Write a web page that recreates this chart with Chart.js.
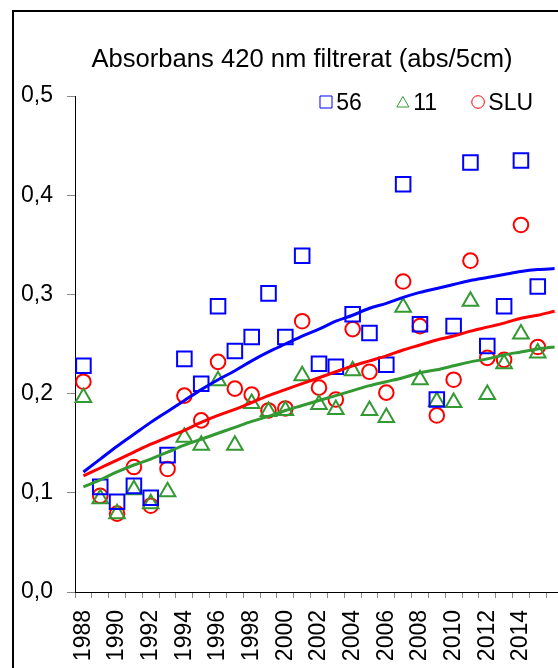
<!DOCTYPE html>
<html lang="sv">
<head>
    <meta charset="UTF-8">
    <title>Absorbans 420 nm filtrerat</title>
    <script src="https://cdn.jsdelivr.net/npm/chart.js"></script>
    <style>
        html, body { margin: 0; padding: 0; background: #fff; overflow: hidden; }
        /* the plot in the original runs a few pixels past the picture's right edge */
        #wrap { position: relative; width: 558px; height: 668px; overflow: hidden; }
        #chart { position: absolute; left: 0; top: 0; }
        #frame { position: absolute; left: 12px; top: 10px; width: 700px; height: 800px;
                 border: 2px solid #000; pointer-events: none; }
    </style>
</head>
<body>
    <div id="wrap">
        <canvas id="chart" width="563" height="668"></canvas>
        <div id="frame"></div>
    </div>

    <script>
        // Years on the category axis (2016 has no data, only the trendline runs into it)
        const years = [1988, 1989, 1990, 1991, 1992, 1993, 1994, 1995, 1996, 1997,
                       1998, 1999, 2000, 2001, 2002, 2003, 2004, 2005, 2006, 2007,
                       2008, 2009, 2010, 2011, 2012, 2013, 2014, 2015, 2016];

        // Measured values, 1988-2015
        const st56  = [0.228, 0.106, 0.091, 0.107, 0.095, 0.138, 0.235, 0.210, 0.288, 0.243,
                       0.257, 0.301, 0.257, 0.339, 0.230, 0.227, 0.280, 0.261, 0.229, 0.411,
                       0.270, 0.194, 0.268, 0.433, 0.248, 0.288, 0.435, 0.308];
        const st11  = [0.196, 0.094, 0.079, 0.103, 0.089, 0.101, 0.156, 0.148, 0.213, 0.148,
                       0.190, 0.182, 0.183, 0.218, 0.189, 0.184, 0.223, 0.183, 0.176, 0.287,
                       0.214, 0.192, 0.191, 0.293, 0.199, 0.230, 0.260, 0.241];
        const stSLU = [0.212, 0.097, 0.079, 0.126, 0.087, 0.124, 0.198, 0.173, 0.232, 0.205,
                       0.199, 0.183, 0.185, 0.273, 0.206, 0.194, 0.265, 0.222, 0.201, 0.313,
                       0.268, 0.178, 0.214, 0.334, 0.236, 0.234, 0.370, 0.247];

        // Trendlines, 1988-2016
        const trend56  = [0.121, 0.134, 0.147, 0.159, 0.171, 0.182, 0.193, 0.204, 0.214, 0.223,
                          0.233, 0.242, 0.250, 0.258, 0.265, 0.273, 0.279, 0.286, 0.291, 0.297,
                          0.302, 0.306, 0.310, 0.314, 0.317, 0.320, 0.323, 0.325, 0.326];
        const trendSLU = [0.117, 0.125, 0.133, 0.141, 0.149, 0.156, 0.163, 0.171, 0.178, 0.184,
                          0.191, 0.198, 0.204, 0.210, 0.216, 0.222, 0.228, 0.233, 0.238, 0.244,
                          0.249, 0.254, 0.258, 0.263, 0.267, 0.271, 0.276, 0.279, 0.283];
        const trend11  = [0.106, 0.113, 0.121, 0.128, 0.134, 0.141, 0.148, 0.154, 0.160, 0.166,
                          0.172, 0.177, 0.183, 0.188, 0.193, 0.198, 0.203, 0.208, 0.212, 0.216,
                          0.221, 0.224, 0.228, 0.232, 0.235, 0.239, 0.242, 0.245, 0.247];

        const seriesNames = ['56', '11', 'SLU'];
        const titleText = 'Absorbans 420 nm filtrerat (abs/5cm)';

        const BLUE = '#0000ff';
        const GREEN = '#339933';
        const RED = '#ff0000';
        const FONT = "'Liberation Sans', Arial, sans-serif";

        Chart.defaults.font.family = FONT;
        Chart.defaults.color = '#000';

        function markers(label, data, color, style, radius) {
            return {
                label: label,
                data: data,
                showLine: false,
                pointStyle: style,
                pointRadius: radius,
                pointHoverRadius: radius,
                pointBorderWidth: 2,
                pointBorderColor: color,
                pointBackgroundColor: 'rgba(0,0,0,0)',
                borderColor: color,
                order: 1
            };
        }

        function trend(data, color) {
            return {
                label: 'trend',
                data: data,
                borderColor: color,
                borderWidth: 3,
                pointRadius: 0,
                cubicInterpolationMode: 'monotone',
                fill: false,
                order: 0
            };
        }

        // title sits a bit left of the plot centre, legend inside the plot at top right
        const titleAndLegend = {
            id: 'titleAndLegend',
            afterDraw(chart) {
                const { ctx, chartArea } = chart;
                ctx.save();
                ctx.fillStyle = '#000';
                ctx.font = '25.6px ' + FONT;
                ctx.textAlign = 'center';
                ctx.textBaseline = 'middle';
                ctx.fillText(titleText, chartArea.left + 227, chartArea.top - 36);

                ctx.font = '23px ' + FONT;
                ctx.textAlign = 'left';
                ctx.textBaseline = 'alphabetic';
                const y = chartArea.top + 6;
                let x = chartArea.left + 251;
                [0, 1, 2].forEach(i => {
                    const ds = chart.data.datasets[i];
                    const r = ds.pointStyle === 'rect' ? 8.5 : (ds.pointStyle === 'circle' ? 6.3 : 7);
                    ctx.strokeStyle = ds.pointBorderColor;
                    ctx.fillStyle = 'rgba(0,0,0,0)';
                    Chart.helpers.drawPoint(ctx, { pointStyle: ds.pointStyle, radius: r, borderWidth: 2, rotation: 0 },
                                            x, y + (ds.pointStyle === 'triangle' ? 1.5 : 0));
                    ctx.fillStyle = '#000';
                    ctx.fillText(ds.label, x + 10.3, y + 7.5);
                    x += 10.3 + ctx.measureText(ds.label).width + 41;
                });
                ctx.restore();
            }
        };

        const chart = new Chart(document.getElementById('chart'), {
            type: 'line',
            data: {
                labels: years,
                datasets: [
                    markers(seriesNames[0], st56, BLUE, 'rect', 10.3),
                    markers(seriesNames[1], st11, GREEN, 'triangle', 9),
                    markers(seriesNames[2], stSLU, RED, 'circle', 7.3),
                    trend(trend56, BLUE),
                    trend(trendSLU, RED),
                    trend(trend11, GREEN)
                ]
            },
            options: {
                responsive: false,
                animation: false,
                events: [],
                layout: { autoPadding: false, padding: { left: 0, right: 0, top: 96, bottom: 0 } },
                plugins: {
                    legend: { display: false },
                    tooltip: { enabled: false },
                    title: { display: false }
                },
                scales: {
                    x: {
                        type: 'category',
                        offset: true,
                        grid: { drawOnChartArea: false, offset: true, tickLength: 6, color: '#888' },
                        border: { color: '#000', width: 1 },
                        ticks: {
                            autoSkip: false,
                            minRotation: 90,
                            maxRotation: 90,
                            padding: 12,
                            font: { size: 23 },
                            color: '#000',
                            callback: function (value, index) {
                                const y = years[index];
                                return (y % 2 === 0 && y <= 2014) ? String(y) : '';
                            }
                        },
                        afterFit(scale) {
                            scale.height = 76;
                            scale.paddingLeft = 0;
                            scale.paddingRight = 0;
                        }
                    },
                    y: {
                        min: 0,
                        max: 0.5,
                        grid: { drawOnChartArea: false, tickLength: 8, color: '#888' },
                        border: { color: '#000', width: 1 },
                        ticks: {
                            stepSize: 0.1,
                            padding: 14,
                            font: { size: 23 },
                            color: '#000',
                            callback: v => v.toFixed(1).replace('.', ',')
                        },
                        afterFit(scale) {
                            scale.width = 75;
                            scale.paddingTop = 0;
                            scale.paddingBottom = 0;
                        }
                    }
                }
            },
            plugins: [titleAndLegend]
        });
    </script>
</body>
</html>
